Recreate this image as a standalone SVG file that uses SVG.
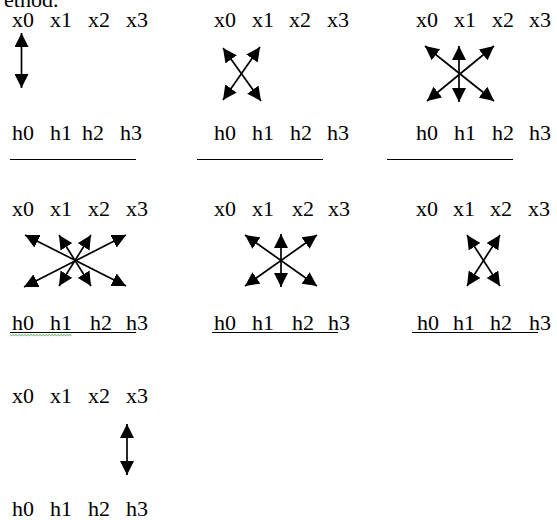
<svg xmlns="http://www.w3.org/2000/svg" width="557" height="520" viewBox="0 0 557 520">
<style>
.t{font-family:"Liberation Serif","Times New Roman",serif;font-size:22px;fill:#000}
.rule{stroke:#000;stroke-width:1.2}
.arr{stroke:#000;stroke-width:1.7;fill:none;marker-start:url(#ah);marker-end:url(#ah)}
</style>
<defs>
<marker id="ah" viewBox="0 0 12 12" refX="12" refY="6" markerWidth="14" markerHeight="14" markerUnits="userSpaceOnUse" orient="auto-start-reverse">
<path d="M0,0 L12,6 L0,12 z" fill="#000"/>
</marker>
</defs>
<rect width="557" height="520" fill="#fff"/>
<g class="t">
<text x="4" y="7">ethod.</text>

<g id="panel1">
<g id="p1-x"><text x="12" y="27">x0</text><text x="50" y="27">x1</text><text x="88" y="27">x2</text><text x="126" y="27">x3</text></g>
<g id="p1-h"><text x="12" y="140">h0</text><text x="50" y="140">h1</text><text x="82" y="140">h2</text><text x="120" y="140">h3</text></g>
</g>
<g id="panel2">
<g id="p2-x"><text x="214" y="27">x0</text><text x="252" y="27">x1</text><text x="289" y="27">x2</text><text x="327" y="27">x3</text></g>
<g id="p2-h"><text x="214" y="140">h0</text><text x="252" y="140">h1</text><text x="290" y="140">h2</text><text x="327" y="140">h3</text></g>
</g>
<g id="panel3">
<g id="p3-x"><text x="416" y="27">x0</text><text x="454" y="27">x1</text><text x="492" y="27">x2</text><text x="529" y="27">x3</text></g>
<g id="p3-h"><text x="416" y="140">h0</text><text x="454" y="140">h1</text><text x="492" y="140">h2</text><text x="529" y="140">h3</text></g>
</g>
<g id="panel4">
<g id="p4-x"><text x="12" y="216">x0</text><text x="50" y="216">x1</text><text x="88" y="216">x2</text><text x="126" y="216">x3</text></g>
<g id="p4-h"><text x="12" y="330">h0</text><text x="50" y="330">h1</text><text x="90" y="330">h2</text><text x="126" y="330">h3</text></g>
</g>
<g id="panel5">
<g id="p5-x"><text x="214" y="216">x0</text><text x="252" y="216">x1</text><text x="292" y="216">x2</text><text x="328" y="216">x3</text></g>
<g id="p5-h"><text x="214" y="330">h0</text><text x="252" y="330">h1</text><text x="292" y="330">h2</text><text x="328" y="330">h3</text></g>
</g>
<g id="panel6">
<g id="p6-x"><text x="416" y="216">x0</text><text x="453" y="216">x1</text><text x="490" y="216">x2</text><text x="528" y="216">x3</text></g>
<g id="p6-h"><text x="417" y="330">h0</text><text x="453" y="330">h1</text><text x="490" y="330">h2</text><text x="529" y="330">h3</text></g>
</g>
<g id="panel7">
<g id="p7-x"><text x="12" y="403">x0</text><text x="50" y="403">x1</text><text x="88" y="403">x2</text><text x="126" y="403">x3</text></g>
<g id="p7-h"><text x="12" y="516">h0</text><text x="50" y="516">h1</text><text x="88" y="516">h2</text><text x="126" y="516">h3</text></g>
</g>
</g>

<g id="rules">
<line class="rule" x1="10" y1="159.5" x2="136" y2="159.5"/>
<line class="rule" x1="197" y1="159.5" x2="323" y2="159.5"/>
<line class="rule" x1="387" y1="159.5" x2="513" y2="159.5"/>
<line class="rule" x1="10" y1="332.5" x2="136" y2="332.5"/>
<line class="rule" x1="212" y1="332.5" x2="338" y2="332.5"/>
<line class="rule" x1="412" y1="332.5" x2="538" y2="332.5"/>
<path d="M10,334.5 l1.5,1.2 l1.5,-1.2 l1.5,1.2 l1.5,-1.2 l1.5,1.2 l1.5,-1.2 l1.5,1.2 l1.5,-1.2 l1.5,1.2 l1.5,-1.2 l1.5,1.2 l1.5,-1.2 l1.5,1.2 l1.5,-1.2 l1.5,1.2 l1.5,-1.2 l1.5,1.2 l1.5,-1.2 l1.5,1.2 l1.5,-1.2 l1.5,1.2 l1.5,-1.2 l1.5,1.2 l1.5,-1.2 l1.5,1.2 l1.5,-1.2 l1.5,1.2 l1.5,-1.2 l1.5,1.2 l1.5,-1.2 l1.5,1.2 l1.5,-1.2 l1.5,1.2 l1.5,-1.2 l1.5,1.2 l1.5,-1.2 l1.5,1.2 l1.5,-1.2 l1.5,1.2 l1.5,-1.2 l1.5,1.2" fill="none" stroke="#3a9a3a" stroke-width="0.9"/>
</g>

<g id="connectors">
<line class="arr" x1="21.5" y1="33" x2="21.5" y2="88"/>
<line class="arr" x1="223" y1="48" x2="261" y2="101"/>
<line class="arr" x1="260" y1="47" x2="223" y2="100"/>
<line class="arr" x1="425" y1="46" x2="494" y2="101"/>
<line class="arr" x1="494" y1="46" x2="427" y2="101"/>
<line class="arr" x1="459" y1="46" x2="459" y2="102"/>
<line class="arr" x1="25" y1="235" x2="126" y2="286"/>
<line class="arr" x1="126" y1="235" x2="24" y2="287"/>
<line class="arr" x1="59" y1="235" x2="91" y2="286"/>
<line class="arr" x1="91" y1="235" x2="59" y2="286"/>
<line class="arr" x1="245" y1="235" x2="317" y2="286"/>
<line class="arr" x1="317" y1="235" x2="245" y2="286"/>
<line class="arr" x1="281" y1="234" x2="281" y2="287"/>
<line class="arr" x1="467" y1="235" x2="500" y2="286"/>
<line class="arr" x1="500" y1="235" x2="467" y2="286"/>
<line class="arr" x1="127" y1="424" x2="127" y2="475"/>
</g>
</svg>
